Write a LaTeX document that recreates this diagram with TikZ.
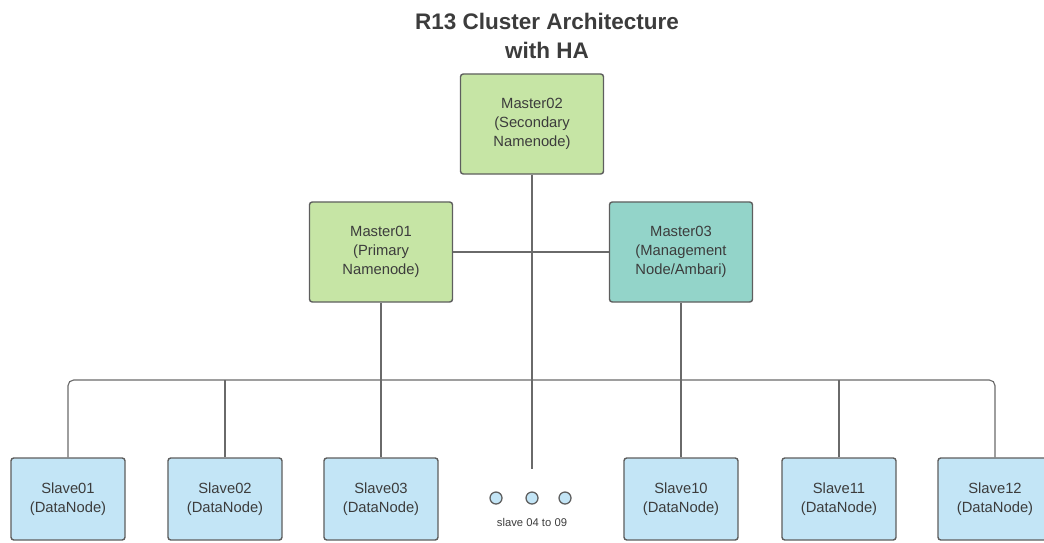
\documentclass[tikz,border=0pt]{standalone}
\usepackage{fontspec}
\setmainfont{Liberation Sans}
\usetikzlibrary{positioning}
\definecolor{mastergreen}{HTML}{C6E5A5}
\definecolor{mgmtteal}{HTML}{93D4C9}
\definecolor{slaveblue}{HTML}{C3E5F6}
\definecolor{boxline}{HTML}{5E5E5E}
\definecolor{wire}{HTML}{6A6A6A}
\definecolor{boxtext}{HTML}{3C3C3C}
\tikzset{
  master/.style={draw=boxline, line width=1pt, rounded corners=2pt, fill=mastergreen,
    minimum width=3.575cm, minimum height=2.5cm, align=center, text=boxtext,
    font=\fontsize{10.5}{13.5}\selectfont},
  mgmt/.style={master, fill=mgmtteal},
  slave/.style={master, fill=slaveblue, minimum width=2.85cm, minimum height=2.05cm},
  dot/.style={circle, draw=boxline, fill=slaveblue, line width=0.9pt, minimum size=0.3cm, inner sep=0pt},
  wireline/.style={draw=wire, line width=0.8pt}
}
\begin{document}
\begin{tikzpicture}[x=0.025cm,y=-0.025cm]
\useasboundingbox (0,0) rectangle (1044,542);
% title
\node[align=center, font=\bfseries\fontsize{16}{20}\selectfont, text=boxtext] (title) at (547,36) {R13 Cluster Architecture\\with HA};
% masters
\node[master] (m02) at (532,124) {Master02\\(Secondary\\Namenode)};
\node[master] (m01) at (381,252) {Master01\\(Primary\\Namenode)};
\node[mgmt] (m03) at (681,252) {Master03\\(Management\\Node/Ambari)};
% slaves
\node[slave] (s01) at (68,499) {Slave01\\(DataNode)};
\node[slave] (s02) at (225,499) {Slave02\\(DataNode)};
\node[slave] (s03) at (381,499) {Slave03\\(DataNode)};
\node[slave] (s10) at (681,499) {Slave10\\(DataNode)};
\node[slave] (s11) at (839,499) {Slave11\\(DataNode)};
\node[slave] (s12) at (995,499) {Slave12\\(DataNode)};
% slave 04 to 09
\node[dot] (d1) at (496,498) {};
\node[dot] (d2) at (532,498) {};
\node[dot] (d3) at (565,498) {};
\node[text=boxtext, font=\fontsize{8}{10}\selectfont] (rest) at (532,522) {slave 04 to 09};
% links
\coordinate (bus) at (532,380);
\draw[wireline] (m01.east) -- (m03.west);
\draw[wireline] (m02.south) -- ([yshift=0.55cm]d2.north);
\draw[wireline] (m01.south) -- (s03.north);
\draw[wireline] (m03.south) -- (s10.north);
\draw[wireline, rounded corners=4pt] (s01.north) |- (bus) -| (s12.north);
\foreach \s in {s02,s11}
  \draw[wireline] (\s.north) -- (\s.north |- bus);
\end{tikzpicture}
\end{document}
